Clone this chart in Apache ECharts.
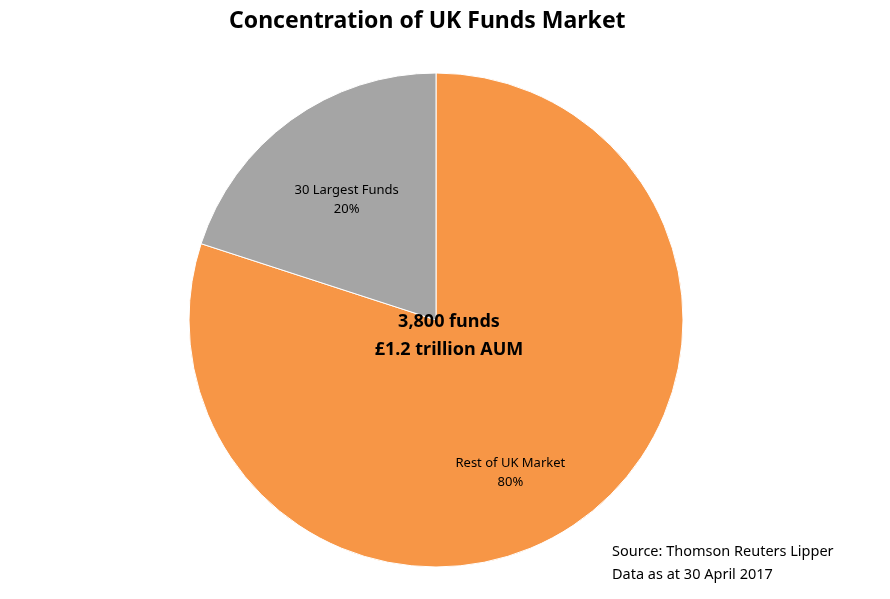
<!DOCTYPE html>
<html>
<head>
<meta charset="utf-8">
<title>Concentration of UK Funds Market</title>
<script src="https://cdn.jsdelivr.net/npm/echarts@6/dist/echarts.min.js"></script>
<style>
  html, body { margin: 0; padding: 0; background: #fff; }
  #chart { width: 890px; height: 599px; }
</style>
</head>
<body>
<div id="chart"></div>
<script>
// slices, clockwise from 12 o'clock
const categories = ['Rest of UK Market', '30 Largest Funds'];
const shares = [80, 20];
const centreLines = ['3,800 funds', '£1.2 trillion AUM'];
const sourceLines = ['Source: Thomson Reuters Lipper', 'Data as at 30 April 2017'];

const FONT = '"Noto Sans", "Open Sans", sans-serif';
const colors = ['#F79646', '#A5A5A5'];
// nudge each label from the ring midpoint to where the original sits
const labelOffsets = [[0, 50], [-15, -18]];

const chart = echarts.init(document.getElementById('chart'));

const option = {
  animation: false,
  title: {
    text: 'Concentration of UK Funds Market',
    left: 224,
    top: 5,
    textStyle: { fontFamily: FONT, fontSize: 23, fontWeight: 'bold', color: '#000' }
  },
  graphic: [
    {
      type: 'text',
      z: 100,
      x: 449,
      y: 308,
      style: {
        text: centreLines.join('\n'),
        fontFamily: FONT,
        fontSize: 18,
        fontWeight: 'bold',
        lineHeight: 28,
        fill: '#000',
        align: 'center'
      }
    },
    {
      type: 'text',
      z: 100,
      left: 612,
      top: 540,
      style: {
        text: sourceLines.join('\n'),
        fontFamily: FONT,
        fontSize: 14.5,
        lineHeight: 23,
        fill: '#000'
      }
    }
  ],
  series: [
    {
      type: 'pie',
      center: [436, 320],
      radius: [0, 247],
      startAngle: 90,
      clockwise: true,
      itemStyle: { borderColor: '#fff', borderWidth: 1 },
      label: {
        show: true,
        position: 'inside',
        fontFamily: FONT,
        fontSize: 13,
        lineHeight: 19,
        color: '#000',
        formatter: p => p.name + '\n' + p.value + '%'
      },
      labelLine: { show: false },
      data: categories.map((name, i) => ({
        name: name,
        value: shares[i],
        itemStyle: { color: colors[i] },
        label: { offset: labelOffsets[i] }
      }))
    }
  ]
};

chart.setOption(option);
</script>
</body>
</html>
